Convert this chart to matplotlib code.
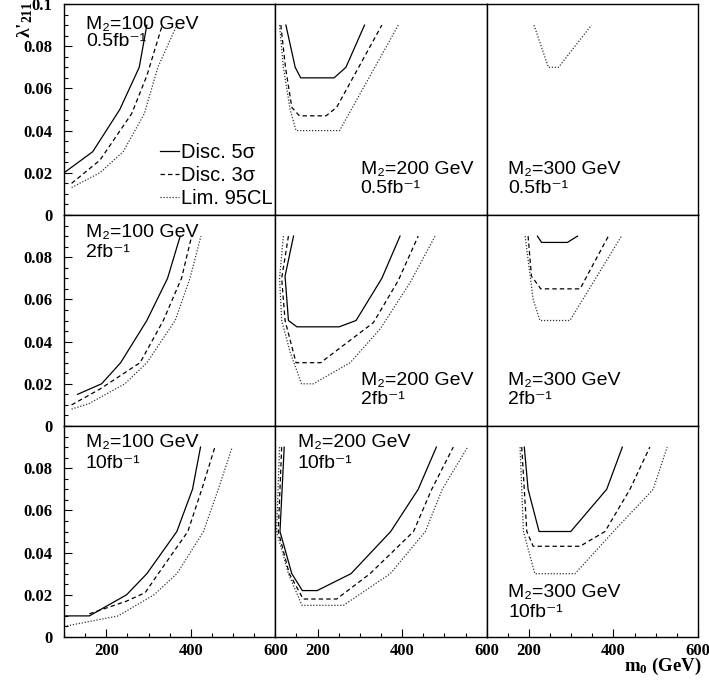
import matplotlib
matplotlib.use("Agg")
import matplotlib.pyplot as plt
from matplotlib.ticker import MultipleLocator, FuncFormatter
from matplotlib.lines import Line2D

# ---------------- data (m0 in GeV, lambda'_211) ----------------
M2_VALUES = [100, 200, 300]            # columns
LUMI_LABELS = ["0.5", "2", "10"]       # rows (fb^-1)
CURVE_LABELS = ["Disc. 5\u03c3", "Disc. 3\u03c3", "Lim. 95CL"]

# row 0 : 0.5 fb-1
p00_s_m = [100, 168, 232, 278, 296]
p00_s_l = [0.020, 0.030, 0.050, 0.070, 0.090]
p00_d_m = [118, 185, 260, 296, 331]
p00_d_l = [0.015, 0.026, 0.048, 0.066, 0.089]
p00_t_m = [118, 185, 240, 290, 322, 367]
p00_t_l = [0.013, 0.020, 0.030, 0.048, 0.070, 0.090]

p01_s_m = [125, 147, 160, 239, 267, 311]
p01_s_l = [0.090, 0.070, 0.065, 0.065, 0.070, 0.090]
p01_d_m = [113, 124, 139, 157, 220, 245, 352]
p01_d_l = [0.090, 0.070, 0.051, 0.047, 0.047, 0.051, 0.090]
p01_t_m = [110, 119, 135, 149, 252, 391]
p01_t_l = [0.090, 0.070, 0.050, 0.040, 0.040, 0.090]

p02_t_m = [212, 246, 270, 348]
p02_t_l = [0.090, 0.070, 0.070, 0.090]

# row 1 : 2 fb-1
p10_s_m = [132, 189, 234, 296, 345, 375]
p10_s_l = [0.015, 0.020, 0.030, 0.050, 0.070, 0.090]
p10_d_m = [118, 185, 280, 335, 378, 402]
p10_d_l = [0.010, 0.0175, 0.030, 0.050, 0.070, 0.090]
p10_t_m = [118, 158, 244, 296, 363, 398, 424]
p10_t_l = [0.008, 0.0105, 0.020, 0.030, 0.050, 0.070, 0.090]

p11_s_m = [143, 123, 131, 151, 251, 291, 352, 395]
p11_s_l = [0.090, 0.071, 0.050, 0.047, 0.047, 0.050, 0.070, 0.090]
p11_d_m = [131, 115, 123, 149, 207, 332, 391, 438]
p11_d_l = [0.090, 0.070, 0.050, 0.030, 0.030, 0.049, 0.069, 0.090]
p11_t_m = [119, 110, 115, 135, 162, 190, 277, 348, 419, 478]
p11_t_l = [0.090, 0.070, 0.050, 0.035, 0.020, 0.020, 0.030, 0.046, 0.068, 0.090]

p12_s_m = [220, 230, 291, 315]
p12_s_l = [0.090, 0.087, 0.087, 0.090]
p12_d_m = [198, 206, 228, 321, 388]
p12_d_l = [0.090, 0.071, 0.065, 0.065, 0.090]
p12_t_m = [191, 210, 226, 297, 419]
p12_t_l = [0.090, 0.060, 0.050, 0.050, 0.090]

# row 2 : 10 fb-1
p20_s_m = [100, 160, 248, 296, 367, 404, 423]
p20_s_l = [0.010, 0.010, 0.020, 0.030, 0.050, 0.070, 0.090]
p20_d_m = [160, 248, 292, 323, 393, 426, 457]
p20_d_l = [0.011, 0.017, 0.021, 0.030, 0.050, 0.070, 0.090]
p20_t_m = [100, 228, 313, 367, 430, 465, 498]
p20_t_l = [0.005, 0.010, 0.020, 0.030, 0.050, 0.070, 0.090]

p21_s_m = [121, 111, 139, 164, 199, 279, 373, 438, 481]
p21_s_l = [0.090, 0.050, 0.030, 0.022, 0.022, 0.030, 0.050, 0.070, 0.090]
p21_d_m = [115, 107, 133, 166, 245, 324, 427, 470, 521]
p21_d_l = [0.090, 0.050, 0.030, 0.018, 0.018, 0.030, 0.050, 0.070, 0.090]
p21_t_m = [110, 103, 131, 163, 261, 372, 455, 495, 555]
p21_t_l = [0.090, 0.050, 0.030, 0.015, 0.015, 0.030, 0.050, 0.070, 0.090]

p22_s_m = [189, 198, 224, 299, 384, 421]
p22_s_l = [0.090, 0.070, 0.050, 0.050, 0.070, 0.090]
p22_d_m = [183, 195, 210, 321, 380, 439, 486]
p22_d_l = [0.090, 0.050, 0.043, 0.043, 0.050, 0.070, 0.090]
p22_t_m = [179, 187, 214, 309, 400, 494, 527]
p22_t_l = [0.090, 0.050, 0.030, 0.030, 0.050, 0.070, 0.090]

# ---------------- style ----------------
plt.rcParams['font.family'] = ['Liberation Serif', 'DejaVu Serif']
plt.rcParams['font.weight'] = 'bold'
plt.rcParams['mathtext.rm'] = 'Liberation Serif:bold'
plt.rcParams['mathtext.it'] = 'Liberation Serif:bold'
plt.rcParams['mathtext.bf'] = 'Liberation Serif:bold'

SANS = ['Liberation Sans', 'DejaVu Sans']

STY = {
    's': dict(color='black', lw=0.9, ls='-'),
    'd': dict(color='black', lw=0.9, ls=(0, (3.5, 2.5))),
    't': dict(color='#333333', lw=0.9, ls=(0, (1, 1.4))),
}

panels = {
    (0, 0): [('s', p00_s_m, p00_s_l), ('d', p00_d_m, p00_d_l), ('t', p00_t_m, p00_t_l)],
    (0, 1): [('s', p01_s_m, p01_s_l), ('d', p01_d_m, p01_d_l), ('t', p01_t_m, p01_t_l)],
    (0, 2): [('t', p02_t_m, p02_t_l)],
    (1, 0): [('s', p10_s_m, p10_s_l), ('d', p10_d_m, p10_d_l), ('t', p10_t_m, p10_t_l)],
    (1, 1): [('s', p11_s_m, p11_s_l), ('d', p11_d_m, p11_d_l), ('t', p11_t_m, p11_t_l)],
    (1, 2): [('s', p12_s_m, p12_s_l), ('d', p12_d_m, p12_d_l), ('t', p12_t_m, p12_t_l)],
    (2, 0): [('s', p20_s_m, p20_s_l), ('d', p20_d_m, p20_d_l), ('t', p20_t_m, p20_t_l)],
    (2, 1): [('s', p21_s_m, p21_s_l), ('d', p21_d_m, p21_d_l), ('t', p21_t_m, p21_t_l)],
    (2, 2): [('s', p22_s_m, p22_s_l), ('d', p22_d_m, p22_d_l), ('t', p22_t_m, p22_t_l)],
}

# label placement (axes fraction): x, y of first baseline, y of second baseline
label_pos = {
    (0, 0): (0.104, 0.882, 0.800),
    (0, 1): (0.404, 0.192, 0.104),
    (0, 2): (0.101, 0.192, 0.104),
    (1, 0): (0.104, 0.897, 0.800),
    (1, 1): (0.404, 0.194, 0.104),
    (1, 2): (0.101, 0.194, 0.104),
    (2, 0): (0.104, 0.899, 0.800),
    (2, 1): (0.107, 0.900, 0.801),
    (2, 2): (0.101, 0.191, 0.096),
}

W, H = 709, 684
L, R, T, B = 64, 698, 4, 637
fig = plt.figure(figsize=(W / 100, H / 100), dpi=100)
gs = fig.add_gridspec(3, 3, left=L / W, right=R / W, top=1 - T / H, bottom=1 - B / H,
                      wspace=0, hspace=0)


def yfmt_top(v, pos):
    if abs(v) < 1e-9:
        return '0'
    s = f'{v:.2f}'
    return s[:-1] if s.endswith('0') else s


def yfmt_other(v, pos):
    if abs(v - 0.1) < 1e-9:
        return ''
    return yfmt_top(v, pos)


for r in range(3):
    for c in range(3):
        ax = fig.add_subplot(gs[r, c])
        ax.set_xlim(100, 600)
        ax.set_ylim(0, 0.1)
        for sp in ax.spines.values():
            sp.set_linewidth(1.0)
        for key, m, lam in panels[(r, c)]:
            ax.plot(m, lam, **STY[key])
        # y axis
        if c == 0:
            ax.yaxis.set_major_locator(MultipleLocator(0.02))
            ax.yaxis.set_minor_locator(MultipleLocator(0.005))
            ax.yaxis.set_major_formatter(FuncFormatter(yfmt_top if r == 0 else yfmt_other))
            ax.tick_params(axis='y', which='both', direction='in', left=True, right=False,
                           labelsize=12, pad=8.5, width=0.8)
            ax.tick_params(axis='y', which='major', length=5.8)
            ax.tick_params(axis='y', which='minor', length=2.9)
        else:
            ax.tick_params(axis='y', which='both', left=False, right=False, labelleft=False)
        # x axis
        if r == 2:
            ax.xaxis.set_major_locator(MultipleLocator(200))
            ax.xaxis.set_minor_locator(MultipleLocator(50))
            ax.tick_params(axis='x', which='both', direction='in', bottom=True, top=False,
                           labelsize=12, pad=4, width=0.8)
            ax.tick_params(axis='x', which='major', length=5.8)
            ax.tick_params(axis='x', which='minor', length=2.9)
        else:
            ax.tick_params(axis='x', which='both', bottom=False, top=False, labelbottom=False)
        # panel labels
        lx, ly1, ly2 = label_pos[(r, c)]
        ax.text(lx, ly1, f"M\u2082={M2_VALUES[c]} GeV",
                transform=ax.transAxes, family=SANS, weight='normal', fontsize=14,
                va='baseline')
        ax.text(lx, ly2, f"{LUMI_LABELS[r]}fb\u207b\u00b9", transform=ax.transAxes,
                family=SANS, weight='normal', fontsize=14, va='baseline')
        if r == 0 and c == 0:
            handles = [Line2D([], [], **STY[k]) for k in ('s', 'd', 't')]
            ax.legend(handles, CURVE_LABELS, loc='lower left', bbox_to_anchor=(0.454, 0.035),
                      frameon=False, prop={'family': SANS, 'weight': 'normal', 'size': 14.5},
                      handlelength=0.95, handletextpad=0.08, labelspacing=0.2,
                      borderpad=0, borderaxespad=0)

fig.text(25 / W, 1 - 38 / H, r"$\lambda$'$_{211}$", rotation=90, ha='center', va='bottom',
         fontsize=14, math_fontfamily='custom')
fig.text(702 / W, 1 - 666 / H, r"m$_0$ (GeV)", ha='right', va='center', fontsize=13.5,
         math_fontfamily='custom')

fig.savefig('out.png', dpi=100)
